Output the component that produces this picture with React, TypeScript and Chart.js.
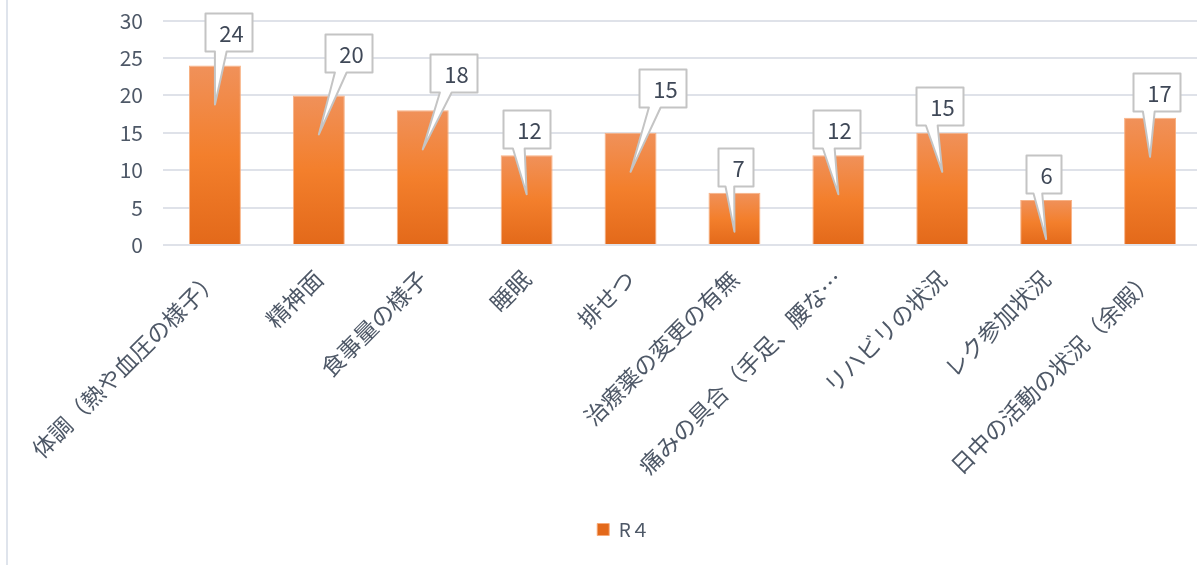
import React, { useEffect, useRef } from "react";
import { Chart, registerables } from "chart.js";

Chart.register(...registerables);

const categories = [
  "体調（熱や血圧の様子）",
  "精神面",
  "食事量の様子",
  "睡眠",
  "排せつ",
  "治療薬の変更の有無",
  "痛みの具合（手足、腰な…",
  "リハビリの状況",
  "レク参加状況",
  "日中の活動の状況（余暇）",
];
const seriesName = "R４";
const values = [24, 20, 18, 12, 15, 7, 12, 15, 6, 17];
const yTicks = [0, 5, 10, 15, 20, 25, 30];

// callout box placement: [box left - bar centre, box bottom - bar top]
const calloutOffsets: [number, number][] = [
  [-10, -14],
  [6, -23],
  [7, -18],
  [-24, -7],
  [8, -26],
  [-16, -7],
  [-25, -7],
  [-26, -8],
  [-20, -7],
  [-17, -7],
];

const FONT = "'Noto Sans CJK JP', 'Noto Sans', sans-serif";
const TEXT = "#4e5867";
const CANVAS_W = 1215;
const CANVAS_H = 565;
const PLOT_BOTTOM = 245;
const PAD_BOTTOM = 16;

export default function App() {
  const ref = useRef<HTMLCanvasElement>(null);

  useEffect(() => {
    const canvas = ref.current;
    if (!canvas) return;

    const calloutPlugin = {
      id: "callouts",
      afterDatasetsDraw(chart: any) {
        const ctx = chart.ctx;
        const meta = chart.getDatasetMeta(0);
        ctx.save();
        ctx.font = `22px ${FONT}`;
        meta.data.forEach((bar: any, i: number) => {
          const cx = bar.x;
          const top = bar.y;
          const text = String(values[i]);
          const tw = ctx.measureText(text).width;
          const w = Math.round(tw + 23);
          const h = 38;
          const [dx, dy] = calloutOffsets[i];
          const left = Math.round(cx + dx) + 0.5;
          const bottom = Math.round(top + dy) + 0.5;
          const right = left + w;
          const btop = bottom - h;
          const tipX = cx;
          const tipY = top + 39;
          const bL = left + w * 0.2;
          const bR = left + w * 0.45;
          ctx.beginPath();
          ctx.moveTo(left, btop);
          ctx.lineTo(right, btop);
          ctx.lineTo(right, bottom);
          ctx.lineTo(bR, bottom);
          ctx.lineTo(tipX, tipY);
          ctx.lineTo(bL, bottom);
          ctx.lineTo(left, bottom);
          ctx.closePath();
          ctx.fillStyle = "#ffffff";
          ctx.fill();
          ctx.lineWidth = 2;
          ctx.lineJoin = "round";
          ctx.strokeStyle = "#c4c4c4";
          ctx.stroke();
          ctx.fillStyle = "#3f4857";
          ctx.textAlign = "center";
          ctx.textBaseline = "middle";
          ctx.fillText(text, left + w / 2 + 2.5, btop + h / 2 + 1);
        });
        ctx.restore();
      },
    };

    const chart = new Chart(canvas, {
      type: "bar",
      data: {
        labels: categories,
        datasets: [
          {
            label: seriesName,
            data: values,
            backgroundColor: (c: any) => {
              if (c.type !== "data") return "#ef7a2c";
              const ch = c.chart;
              const ys = ch.scales && ch.scales.y;
              if (!ys || !ch.chartArea) return "#ef7a2c";
              const t = ys.getPixelForValue(c.raw);
              const b = ys.getPixelForValue(0);
              if (!isFinite(t) || !isFinite(b) || t === b) return "#ef7a2c";
              const g = ch.ctx.createLinearGradient(0, t, 0, b);
              g.addColorStop(0, "#f0915a");
              g.addColorStop(0.5, "#f37f2c");
              g.addColorStop(1, "#e3691a");
              return g;
            },
            borderColor: "rgba(247,170,120,0.9)",
            borderWidth: 1,
            barPercentage: 0.5,
            categoryPercentage: 1,
          },
        ],
      },
      options: {
        animation: false,
        responsive: false,
        devicePixelRatio: 1,
        layout: { padding: { left: 45, right: 13, top: 8, bottom: PAD_BOTTOM } },
        plugins: {
          legend: {
            position: "bottom",
            labels: {
              boxWidth: 12,
              boxHeight: 12,
              color: TEXT,
              font: { family: FONT, size: 19 },
              padding: 10,
            },
          },
          tooltip: { enabled: false },
        },
        scales: {
          x: {
            grid: { display: false, drawTicks: false },
            border: { display: false },
            ticks: {
              minRotation: 45,
              maxRotation: 45,
              autoSkip: false,
              padding: 20,
              color: TEXT,
              font: { family: FONT, size: 23 },
            },
            afterFit: (s: any) => {
              const lh = s.chart.legend ? s.chart.legend.height : 0;
              s.height = CANVAS_H - PAD_BOTTOM - lh - PLOT_BOTTOM;
            },
          },
          y: {
            min: 0,
            max: 30,
            grid: {
              color: "#dfe2e9",
              lineWidth: 2,
              drawTicks: true,
              tickLength: 12,
              tickColor: "rgba(0,0,0,0)",
            },
            border: { display: false },
            ticks: {
              padding: 8,
              color: TEXT,
              font: { family: FONT, size: 21 },
            },
            afterBuildTicks: (s: any) => {
              s.ticks = yTicks.map((v) => ({ value: v }));
            },
            afterFit: (s: any) => {
              s.width = 118;
            },
          },
        },
      },
      plugins: [calloutPlugin],
    } as any);

    return () => chart.destroy();
  }, []);

  return (
    <div
      style={{
        position: "fixed",
        left: 0,
        top: 0,
        width: 1197,
        height: 565,
        overflow: "hidden",
        background: "#ffffff",
      }}
    >
      <div
        style={{
          position: "absolute",
          left: 6,
          top: 0,
          width: 2,
          height: 565,
          background: "#dfe4ec",
        }}
      />
      <canvas
        ref={ref}
        width={CANVAS_W}
        height={CANVAS_H}
        style={{ position: "absolute", left: 0, top: 0, display: "block" }}
      />
    </div>
  );
}
